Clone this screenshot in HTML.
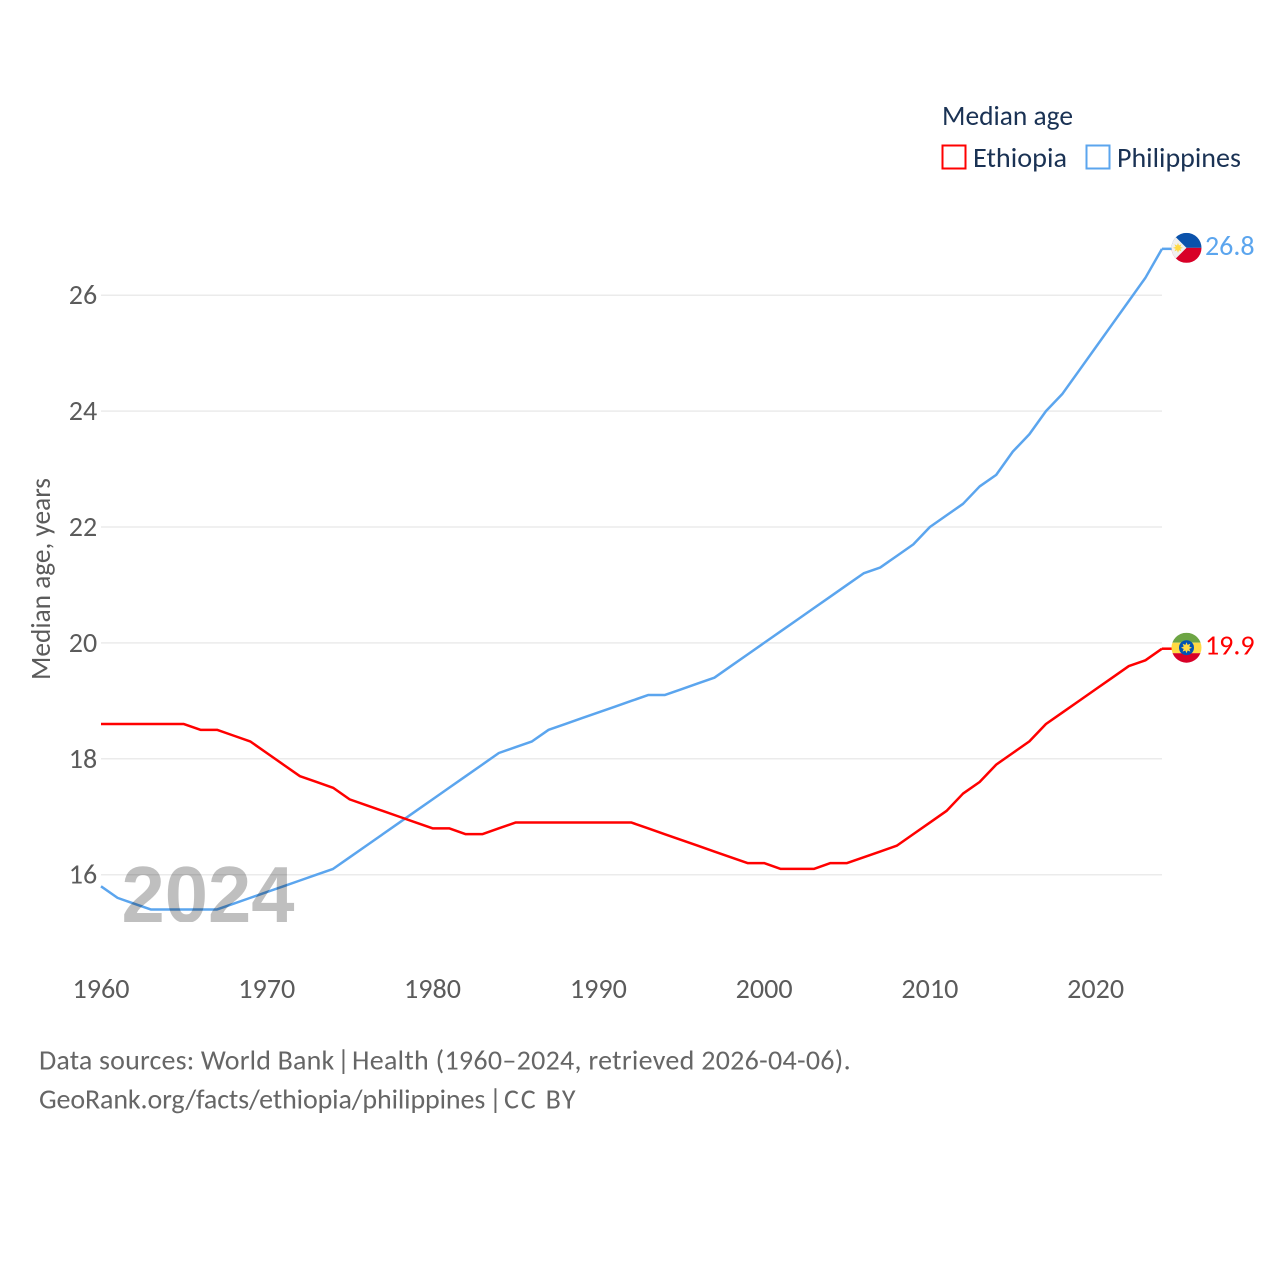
<!DOCTYPE html>
<html lang="en">
<head>
<meta charset="utf-8">
<title>Median age: Ethiopia and Philippines</title>
<style>
html,body{margin:0;padding:0;background:#fff;}
svg{display:block;}
text{font-family:"Carlito","Lato","Liberation Sans",sans-serif;}
</style>
</head>
<body>
<svg id="chart" xmlns="http://www.w3.org/2000/svg" width="1280" height="1280" viewBox="0 0 1280 1280">
  <defs>
    <clipPath id="flag-clip"><circle cx="0" cy="0" r="15"></circle></clipPath>
    <clipPath id="year-clip"><rect x="100" y="850" width="220" height="72"></rect></clipPath>
  </defs>
  <rect width="1280" height="1280" fill="#fff"></rect>
  <g id="grid"></g>
  <g id="yticks"></g>
  <g id="xticks"></g>
  <text transform="translate(50,579) rotate(-90)" text-anchor="middle" font-size="28" fill="#5b5b5b" textLength="202" lengthAdjust="spacingAndGlyphs">Median age, years</text>
  <g id="series"></g>
  <text x="121.500" y="922" clip-path="url(#year-clip)" font-size="80" font-weight="700" fill="#000" fill-opacity="0.25" textLength="173" lengthAdjust="spacingAndGlyphs" style="font-family:'Liberation Sans',sans-serif">2024</text>
  <g id="ends"></g>

  <g>
    <text x="942" y="125" font-size="28" fill="#1a3254" textLength="131" lengthAdjust="spacingAndGlyphs">Median age</text>
    <g>
      <rect x="942.500" y="145.500" width="23" height="23" fill="none" stroke="#ff0000" stroke-width="2"></rect>
      <text x="973" y="167" font-size="28" fill="#1a3254" textLength="94" lengthAdjust="spacingAndGlyphs">Ethiopia</text>
    </g>
    <g>
      <rect x="1086.500" y="145.500" width="23" height="23" fill="none" stroke="#5ba5ee" stroke-width="2"></rect>
      <text x="1117" y="167" font-size="28" fill="#1a3254">Philippines</text>
    </g>
  </g>

  <text y="1069.500" font-size="28" fill="#666"><tspan x="39" letter-spacing="0.17">Data sources: World Bank</tspan> <tspan x="337">|</tspan> <tspan x="352" letter-spacing="0.29">Health (1960–2024, retrieved 2026-04-06).</tspan></text>
  <text y="1108.500" font-size="28" fill="#666"><tspan x="39" letter-spacing="-0.13">GeoRank.org/facts/ethiopia/philippines</tspan> <tspan x="489">|</tspan> <tspan x="504" letter-spacing="1.8">CC BY</tspan></text>
</svg>
<script>
var startYear = 1960;
var yTickValues = [16, 18, 20, 22, 24, 26];
var xTickValues = [1960, 1970, 1980, 1990, 2000, 2010, 2020];
var ethiopiaValues = [18.6,18.6,18.6,18.6,18.6,18.6,18.5,18.5,18.4,18.3,18.1,17.9,17.7,17.6,17.5,17.3,17.2,17.1,17.0,16.9,16.8,16.8,16.7,16.7,16.8,16.9,16.9,16.9,16.9,16.9,16.9,16.9,16.9,16.8,16.7,16.6,16.5,16.4,16.3,16.2,16.2,16.1,16.1,16.1,16.2,16.2,16.3,16.4,16.5,16.7,16.9,17.1,17.4,17.6,17.9,18.1,18.3,18.6,18.8,19.0,19.2,19.4,19.6,19.7,19.9];
var philippinesValues = [15.8,15.6,15.5,15.4,15.4,15.4,15.4,15.4,15.5,15.6,15.7,15.8,15.9,16.0,16.1,16.3,16.5,16.7,16.9,17.1,17.3,17.5,17.7,17.9,18.1,18.2,18.3,18.5,18.6,18.7,18.8,18.9,19.0,19.1,19.1,19.2,19.3,19.4,19.6,19.8,20.0,20.2,20.4,20.6,20.8,21.0,21.2,21.3,21.5,21.7,22.0,22.2,22.4,22.7,22.9,23.3,23.6,24.0,24.3,24.7,25.1,25.5,25.9,26.3,26.8];

var NS = 'http://www.w3.org/2000/svg';
function xScale(year) { return 101 + (year - 1960) * 16.578; }
function yScale(value) { return 874.7 - (value - 16) * 57.95; }
function make(tag, attrs, parent) {
  var el = document.createElementNS(NS, tag);
  for (var k in attrs) { el.setAttribute(k, attrs[k]); }
  parent.appendChild(el);
  return el;
}
function starPoints(points, outer, inner, cx, cy) {
  var out = [];
  for (var i = 0; i < points * 2; i++) {
    var r = i % 2 ? inner : outer;
    var a = Math.PI * i / points - Math.PI / 2;
    out.push((cx + r * Math.cos(a)).toFixed(2) + ',' + (cy + r * Math.sin(a)).toFixed(2));
  }
  return out.join(' ');
}

var gridGroup = document.getElementById('grid');
var yGroup = document.getElementById('yticks');
yTickValues.forEach(function (v) {
  var line = make('line', {x1: xScale(1960), x2: xScale(2024), y1: yScale(v), y2: yScale(v), stroke: '#ebebeb', 'stroke-width': 1.5}, gridGroup);
  
  
  var label = make('text', {x: 83, y: yScale(v) + 9, 'text-anchor': 'middle', 'font-size': 28, fill: '#5b5b5b'}, yGroup);
  
  
  label.textContent = v;
});

var xGroup = document.getElementById('xticks');
xTickValues.forEach(function (year) {
  var label = make('text', {x: xScale(year), y: 998, 'text-anchor': 'middle', 'font-size': 28, fill: '#5b5b5b', textLength: 57, lengthAdjust: 'spacingAndGlyphs'}, xGroup);
  
  
  label.textContent = year;
});

function pathFor(values) {
  return values.map(function (v, i) {
    return (i ? 'L' : 'M') + xScale(startYear + i).toFixed(2) + ' ' + yScale(v).toFixed(2);
  }).join(' ');
}

var seriesGroup = document.getElementById('series');
var endsGroup = document.getElementById('ends');

var philippinesLine = make('path', {d: pathFor(philippinesValues), fill: 'none', stroke: '#5ba5ee', 'stroke-width': 2.500, 'stroke-linejoin': 'round'}, seriesGroup);



var ethiopiaLine = make('path', {d: pathFor(ethiopiaValues), fill: 'none', stroke: '#ff0000', 'stroke-width': 2.500, 'stroke-linejoin': 'round'}, seriesGroup);



function endMarker(values, color) {
  var last = values[values.length - 1];
  var yEnd = yScale(last);
  var xEnd = xScale(startYear + values.length - 1);
  make('line', {x1: xEnd, x2: xEnd + 10, y1: yEnd, y2: yEnd, stroke: color, 'stroke-width': 2.500}, endsGroup);
  var flag = make('g', {transform: 'translate(' + (xEnd + 24.5) + ',' + (yEnd - 1) + ')', 'clip-path': 'url(#flag-clip)'}, endsGroup);
  var label = make('text', {x: xEnd + 43, y: yEnd + 6, 'font-size': 28, fill: color}, endsGroup);
  label.textContent = last.toFixed(1);
  return {flag: flag, label: label};
}

var phMarker = endMarker(philippinesValues, '#5ba5ee');




make('rect', {x: -15, y: -15, width: 30, height: 15, fill: '#0b52ab'}, phMarker.flag);
make('rect', {x: -15, y: 0, width: 30, height: 15, fill: '#d80027'}, phMarker.flag);
make('polygon', {points: '-15,-15 -15,15 0,0', fill: '#f0f0f0'}, phMarker.flag);
make('polygon', {points: starPoints(8, 5, 2.5, -8.5, 0), fill: '#ffda44'}, phMarker.flag);

var etMarker = endMarker(ethiopiaValues, '#ff0000');




make('rect', {x: -15, y: -15, width: 30, height: 10, fill: '#6da544'}, etMarker.flag);
make('rect', {x: -15, y: -5, width: 30, height: 10.500, fill: '#ffda44'}, etMarker.flag);
make('rect', {x: -15, y: 5.500, width: 30, height: 10, fill: '#d80027'}, etMarker.flag);
make('circle', {cx: 0, cy: 0, r: 7.500, fill: '#0052b4'}, etMarker.flag);
make('polygon', {points: starPoints(8, 5.500, 3, 0, 0), fill: '#ffda44'}, etMarker.flag);
</script>
</body>
</html>
